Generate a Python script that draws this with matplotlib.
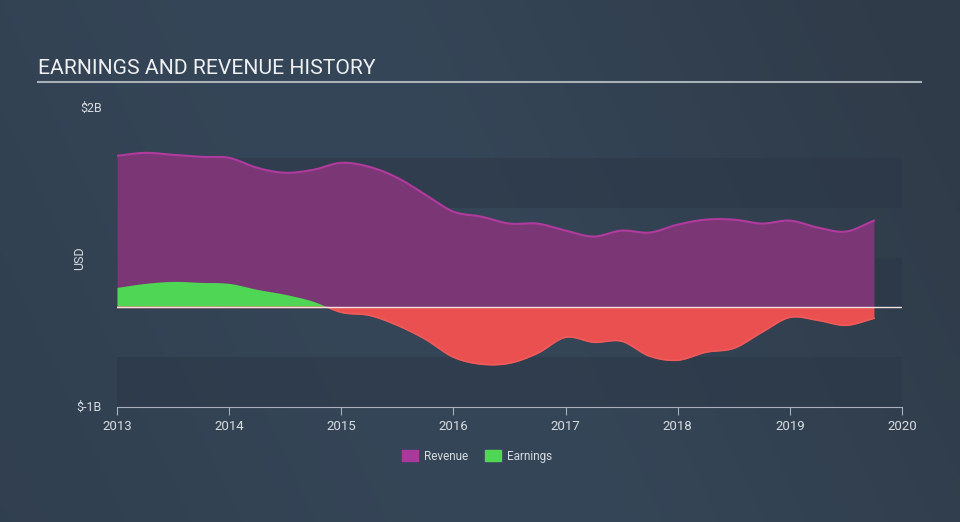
import numpy as np
import matplotlib
matplotlib.use("Agg")
import matplotlib.pyplot as plt
from matplotlib.patches import Patch

plt.rcParams['font.family'] = ['Roboto', 'DejaVu Sans']

# quarterly values, billions USD
dates = [2013.0, 2013.25, 2013.5, 2013.75, 2014.0, 2014.25, 2014.5, 2014.75,
         2015.0, 2015.25, 2015.5, 2015.75, 2016.0, 2016.25, 2016.5, 2016.75,
         2017.0, 2017.25, 2017.5, 2017.75, 2018.0, 2018.25, 2018.5, 2018.75,
         2019.0, 2019.25, 2019.5, 2019.75]
revenue = [1.52, 1.55, 1.53, 1.51, 1.50, 1.40, 1.35, 1.38,
           1.45, 1.41, 1.30, 1.13, 0.96, 0.91, 0.84, 0.84,
           0.77, 0.71, 0.77, 0.75, 0.83, 0.88, 0.88, 0.84,
           0.87, 0.80, 0.76, 0.87]
earnings = [0.20, 0.24, 0.26, 0.25, 0.24, 0.18, 0.13, 0.06,
            -0.05, -0.08, -0.18, -0.32, -0.50, -0.57, -0.56, -0.46,
            -0.30, -0.35, -0.34, -0.49, -0.53, -0.45, -0.41, -0.25,
            -0.10, -0.13, -0.18, -0.11]
years = [2013, 2014, 2015, 2016, 2017, 2018, 2019, 2020]


def smooth(x, y, n=12):
    # catmull-rom curve through the points, for drawing only
    x = np.asarray(x, float)
    y = np.asarray(y, float)
    px = np.concatenate([[2 * x[0] - x[1]], x, [2 * x[-1] - x[-2]]])
    py = np.concatenate([[2 * y[0] - y[1]], y, [2 * y[-1] - y[-2]]])
    xs, ys = [], []
    t = np.linspace(0, 1, n, endpoint=False)
    for i in range(1, len(px) - 2):
        for p, out in ((px, xs), (py, ys)):
            p0, p1, p2, p3 = p[i - 1], p[i], p[i + 1], p[i + 2]
            out.extend(0.5 * ((2 * p1) + (-p0 + p2) * t +
                              (2 * p0 - 5 * p1 + 4 * p2 - p3) * t ** 2 +
                              (-p0 + 3 * p1 - 3 * p2 + p3) * t ** 3))
    xs.append(x[-1])
    ys.append(y[-1])
    return np.array(xs), np.array(ys)


fig = plt.figure(figsize=(9.6, 5.22), dpi=100)

# background gradient, soft and diagonal
bg = fig.add_axes([0, 0, 1, 1], zorder=-10)
gx, gy = np.meshgrid(np.linspace(0, 1, 240), np.linspace(0, 1, 130))
d = np.clip(0.8 * gx + 0.2 * (1 - gy), 0, 1)
w = np.exp(-((d - 0.45) / 0.35) ** 2)
edge = np.where(d < 0.45, np.array([0x30, 0x3e, 0x4e])[:, None, None],
                np.array([0x2f, 0x3a, 0x47])[:, None, None]) / 255
mid = np.array([0x35, 0x46, 0x58])[:, None, None] / 255
cols = (edge * (1 - w) + mid * w).transpose(1, 2, 0)
bg.imshow(cols, aspect='auto', extent=[0, 1, 0, 1], interpolation='bilinear')
bg.axis('off')

ax = fig.add_axes([117 / 960, 1 - 407 / 522, 785 / 960, 299 / 522])
ax.set_facecolor('none')
ax.set_xlim(2013, 2020)
ax.set_ylim(-1, 2)

for lo, hi in [(1.0, 1.5), (0.0, 0.5), (-1.0, -0.5)]:
    ax.axhspan(lo, hi, color='#2b3747', alpha=0.55, lw=0, zorder=0)

rx, ry = smooth(dates, revenue)
ax.fill_between(rx, 0, ry, color='#7b3775', lw=0, zorder=2)
ax.plot(rx, ry, color='#b13a9e', lw=1.5, zorder=3)

ex, ey = smooth(dates, earnings)
ax.fill_between(ex, 0, ey, where=ey >= 0, interpolate=True,
                color='#4fd655', lw=0, zorder=4)
ax.fill_between(ex, 0, ey, where=ey <= 0, interpolate=True,
                color='#ea5050', lw=0, zorder=4)
ax.plot(ex, np.minimum(ey, 0), color='#f05a5a', lw=1.2, zorder=4)
ax.axhline(0, color='#f3e0e0', lw=1, zorder=5)

for s in ['top', 'right', 'left']:
    ax.spines[s].set_visible(False)
ax.spines['bottom'].set_color('#a8b0bb')
ax.set_xticks(years)
ax.set_xticklabels([str(y) for y in years])
ax.tick_params(axis='x', colors='#a8b0bb', labelcolor='#d8dce0',
               labelsize=9.5, length=6, pad=3)
ax.set_yticks([])

fig.text(102 / 960, 1 - 108 / 522, '$2B', color='#d8dce0', fontsize=9,
         ha='right', va='center')
fig.text(102 / 960, 1 - 407 / 522, '$-1B', color='#d8dce0', fontsize=9,
         ha='right', va='center')
fig.text(80 / 960, 1 - 258 / 522, 'USD', color='#d8dce0', fontsize=9,
         rotation=90, ha='center', va='center')

fig.text(38 / 960, 1 - 68 / 522, 'EARNINGS AND REVENUE HISTORY',
         color='#eef0f2', fontsize=15.2, ha='left', va='center')
fig.add_artist(plt.Line2D([38 / 960, 921 / 960], [1 - 82 / 522, 1 - 82 / 522],
                          color='#a8b0b8', lw=1.5))

handles = [Patch(color='#a93a9b', label='Revenue'),
           Patch(color='#4fd655', label='Earnings')]
fig.legend(handles=handles, loc='center', bbox_to_anchor=(477 / 960, 1 - 456 / 522),
           ncol=2, frameon=False, fontsize=8.5, labelcolor='#d8dce0',
           handlelength=1.3, handleheight=1.1, columnspacing=1.5, handletextpad=0.5)

fig.savefig('out.png', dpi=100)
